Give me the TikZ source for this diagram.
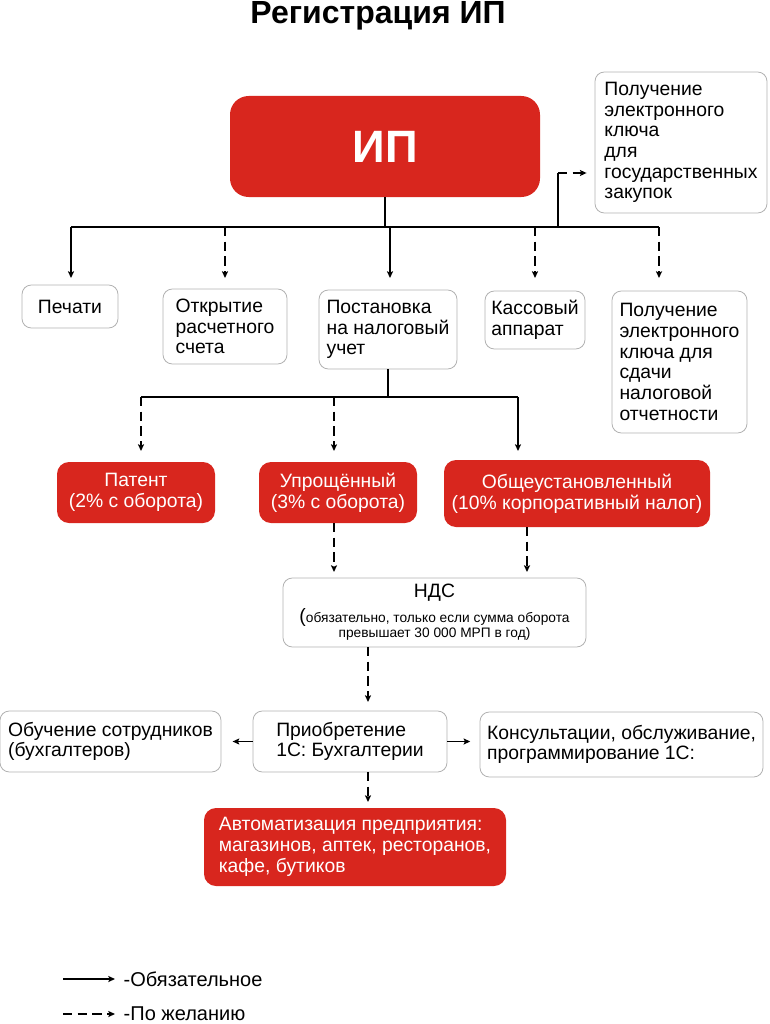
\documentclass[tikz,border=0pt]{standalone}
\usepackage{fontspec}
\setmainfont{Liberation Sans}
\usetikzlibrary{arrows.meta}

\definecolor{ipred}{RGB}{216,38,30}
\definecolor{boxgray}{RGB}{178,178,178}

\begin{document}
\begin{tikzpicture}[x=0.75pt,y=-0.75pt,
	wbox/.style={draw=boxgray,line width=0.6pt,rounded corners=7pt,fill=white,align=left,inner sep=0pt,font=\fontsize{14.5}{15.5}\selectfont},
	rbox/.style={fill=ipred,rounded corners=9pt,text=white,align=center,inner sep=0pt,font=\fontsize{14.5}{15.5}\selectfont},
	lin/.style={line width=1pt},
	must/.style={lin,-{Stealth[length=5pt,width=4.5pt,inset=1pt]}},
	wish/.style={must,dash pattern=on 7pt off 4pt}]
				\useasboundingbox (0,0) rectangle (769,1024);
				%Titol
				\node[anchor=base,font=\fontsize{24}{26}\selectfont\bfseries] (titol) at (378,24) {Регистрация ИП};
				%Caixa principal
				\node[rbox,rounded corners=14pt,minimum width=232.5pt,minimum height=75.75pt,font=\fontsize{34}{36}\selectfont\bfseries] (ip) at (385,146.5) {ИП};
				\node[wbox,minimum width=129pt,minimum height=105.75pt] (zakup) at (681,142.5) {Получение\\электронного\\ключа\\для\\государственных\\закупок};
				%Primera fila
				\node[wbox,minimum width=72pt,minimum height=32.25pt] (pechati) at (70,306.5) {Печати};
				\node[wbox,minimum width=93pt,minimum height=56.25pt] (schet) at (225,326.5) {Открытие\\расчетного\\счета};
				\node[wbox,minimum width=103.5pt,minimum height=59.25pt] (uchet) at (388,329.5) {Постановка\\на налоговый\\учет};
				\node[wbox,minimum width=75pt,minimum height=43.5pt] (kassa) at (535,320) {Кассовый\\аппарат};
				\node[wbox,minimum width=101.25pt,minimum height=106.5pt] (otchet) at (679.5,362) {Получение\\электронного\\ключа для\\сдачи\\налоговой\\отчетности};
				%Regims fiscals
				\node[rbox,minimum width=118.5pt,minimum height=45.75pt] (patent) at (136,492.5) {Патент\\(2\% с оборота)};
				\node[rbox,minimum width=118.5pt,minimum height=45.75pt] (uproshch) at (338,492.5) {Упрощённый\\(3\% с оборота)};
				\node[rbox,minimum width=199.5pt,minimum height=50.25pt] (obshch) at (577,493.5) {Общеустановленный\\(10\% корпоративный налог)};
				%NDS
				\node[wbox,align=center,minimum width=227.25pt,minimum height=51.75pt,font=\fontsize{10.3}{11.5}\selectfont] (nds) at (434.5,612.5) {{\fontsize{14.5}{15}\selectfont НДС}\\[4pt]{\fontsize{14.5}{11}\selectfont(}обязательно, только если сумма оборота\\превышает 30 000 МРП в год)};
				%1C
				\node[wbox,minimum width=165.75pt,minimum height=45.75pt] (obuch) at (110.5,741.5) {Обучение сотрудников\\(бухгалтеров)};
				\node[wbox,minimum width=145.5pt,minimum height=45.75pt] (priob) at (350,741.5) {Приобретение\\1С: Бухгалтерии};
				\node[wbox,minimum width=212.25pt,minimum height=48.75pt] (kons) at (621.5,744.5) {Консультации, обслуживание,\\программирование 1С:};
				\node[rbox,align=left,minimum width=226.5pt,minimum height=58.5pt] (avto) at (355,847) {Автоматизация предприятия:\\магазинов, аптек, ресторанов,\\кафе, бутиков};
				%Linies del primer nivell
				\coordinate (bus1) at (71,227);
				\coordinate (bus5) at (659,227);
				\coordinate (tip1) at (0,278);
				\coordinate (zk1) at (558,227);
				\coordinate (zk2) at (558,173);
				\draw[lin] (ip.south) -- (ip.south |- bus1);
				\draw[lin] (bus1) -- (bus5);
				\draw[must] (bus1) -- (bus1 |- tip1);
				\draw[wish] (schet.north |- bus1) -- (schet.north |- tip1);
				\draw[must] (390,227) -- (390,278);
				\draw[wish] (kassa.north |- bus1) -- (kassa.north |- tip1);
				\draw[wish] (bus5) -- (bus5 |- tip1);
				\draw[lin] (zk1) -- (zk2);
				\draw[wish] (zk2) -- ([xshift=-6pt]zk2 -| zakup.west);
				%Linies dels regims
				\coordinate (bus6) at (141,397);
				\coordinate (bus8) at (518,397);
				\coordinate (tip2) at (0,451);
				\draw[lin] (uchet.south) -- (uchet.south |- bus6);
				\draw[lin] (bus6) -- (bus8);
				\draw[wish] (bus6) -- (bus6 |- tip2);
				\draw[wish] (334,397) -- (334,451);
				\draw[must] (bus8) -- (bus8 |- tip2);
				%Cap a NDS i 1C
				\draw[wish] (334,523) -- (334,572);
				\draw[wish] (527,527) -- (527,572);
				\draw[wish] (368,647) -- (368,702);
				\draw[must] (priob.west) -- ([xshift=-15pt]priob.west);
				\draw[must] (priob.east) -- ([xshift=-7pt]kons.west |- priob.east);
				\draw[wish] (368,772) -- (368,802);
				%Llegenda
				\node[anchor=west,font=\fontsize{15}{17}\selectfont] (obyaz) at (119,979) {-Обязательное};
				\node[anchor=west,font=\fontsize{15}{17}\selectfont] (zhel) at (119,1014) {-По желанию};
				\coordinate (ll1) at (63,979);
				\coordinate (ll2) at (63,1014);
				\draw[must] (ll1) -- ([xshift=-3pt]obyaz.west);
				\draw[wish] (ll2) -- ([xshift=-3pt]zhel.west);
\end{tikzpicture}
\end{document}
